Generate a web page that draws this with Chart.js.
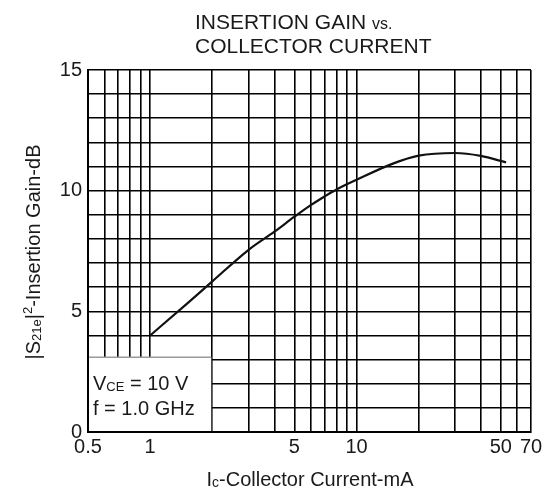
<!DOCTYPE html>
<html>
<head>
<meta charset="utf-8">
<script src="https://cdn.jsdelivr.net/npm/chart.js@4/dist/chart.umd.min.js"></script>
<style>
  html, body { margin: 0; padding: 0; background: #fff; }
</style>
</head>
<body>
<canvas id="gainChart" width="548" height="490"></canvas>
<script>
// Insertion gain vs collector current
const currentMA = [1, 1.5, 2, 3, 4, 5, 6, 7, 8, 10, 15, 20, 30, 40, 53];
const gainDB = [4.0, 5.3, 6.24, 7.55, 8.3, 8.92, 9.4, 9.76, 10.05, 10.45, 11.12, 11.45, 11.56, 11.44, 11.17];

const xGridValues = [0.5, 0.6, 0.7, 0.8, 0.9, 1, 2, 3, 4, 5, 6, 7, 8, 9, 10, 20, 30, 40, 50, 60, 70];
const xTickLabels = [0.5, 1, 5, 10, 50, 70];
const yGridValues = [0, 1, 2, 3, 4, 5, 6, 7, 8, 9, 10, 11, 12, 13, 14, 15];
const yTickLabels = [0, 5, 10, 15];

const fontFamily = "'Liberation Sans', Arial, sans-serif";
const ink = '#1a1a1a';

// draws a row of text pieces with different sizes (for subscripts)
function drawRuns(ctx, runs, x, y, align) {
    let total = 0;
    runs.forEach(r => {
        ctx.font = r.size + 'px ' + fontFamily;
        r.w = ctx.measureText(r.text).width;
        total += r.w;
    });
    let cx = align === 'center' ? x - total / 2 : x;
    ctx.textAlign = 'left';
    ctx.textBaseline = 'alphabetic';
    runs.forEach(r => {
        ctx.font = r.size + 'px ' + fontFamily;
        ctx.fillText(r.text, cx, y + (r.dy || 0));
        cx += r.w;
    });
}

const conditionBox = {
    id: 'conditionBox',
    beforeDatasetsDraw(chart) {
        const ctx = chart.ctx;
        const xs = chart.scales.x, ys = chart.scales.y;
        const x0 = chart.chartArea.left + 1;
        const x1 = xs.getPixelForValue(2) - 1;
        const yTop = ys.getPixelForValue(3.1);
        const yBot = chart.chartArea.bottom - 1;
        ctx.save();
        ctx.fillStyle = '#fff';
        ctx.fillRect(x0, yTop, x1 - x0, yBot - yTop);
        ctx.strokeStyle = '#9a9a9a';
        ctx.lineWidth = 1.5;
        ctx.beginPath();
        ctx.moveTo(x0, yTop);
        ctx.lineTo(x1, yTop);
        ctx.stroke();
        ctx.restore();
    },
    afterDraw(chart) {
        const ctx = chart.ctx;
        ctx.save();
        ctx.fillStyle = ink;
        // condition text
        drawRuns(ctx, [
            { text: 'V', size: 20 },
            { text: 'CE', size: 13, dy: 1 },
            { text: ' = 10 V', size: 20 }
        ], 93, 390, 'left');
        drawRuns(ctx, [{ text: 'f = 1.0 GHz', size: 20 }], 93, 415, 'left');

        // title
        drawRuns(ctx, [
            { text: 'INSERTION GAIN ', size: 21 },
            { text: 'vs.', size: 16 }
        ], 195, 29, 'left');
        drawRuns(ctx, [{ text: 'COLLECTOR CURRENT', size: 21 }], 195, 53, 'left');

        // x axis title
        drawRuns(ctx, [
            { text: 'I', size: 20 },
            { text: 'c', size: 14, dy: 1 },
            { text: '-Collector Current-mA', size: 20 }
        ], 310, 486, 'center');

        // y axis title
        ctx.translate(40, 252);
        ctx.rotate(-Math.PI / 2);
        drawRuns(ctx, [
            { text: '|S', size: 20 },
            { text: '21e', size: 13, dy: 1 },
            { text: '|', size: 20 },
            { text: '2', size: 13, dy: -8 },
            { text: '-Insertion Gain-dB', size: 20 }
        ], 0, 0, 'center');
        ctx.restore();
    }
};

const gainCtx = document.getElementById('gainChart').getContext('2d');
new Chart(gainCtx, {
    type: 'line',
    data: {
        datasets: [{
            data: currentMA.map((x, i) => ({ x: x, y: gainDB[i] })),
            borderColor: '#111',
            borderWidth: 2.2,
            pointRadius: 0,
            cubicInterpolationMode: 'monotone',
            fill: false
        }]
    },
    options: {
        responsive: false,
        animation: false,
        devicePixelRatio: 1,
        layout: { padding: { top: 70, right: 17, left: 0, bottom: 0 } },
        plugins: {
            legend: { display: false },
            tooltip: { enabled: false }
        },
        scales: {
            x: {
                type: 'logarithmic',
                min: 0.5,
                max: 70,
                afterBuildTicks: s => { s.ticks = xGridValues.map(v => ({ value: v })); },
                afterFit: s => { s.height = 58; s.paddingLeft = 0; s.paddingRight = 0; },
                grid: { color: '#000', lineWidth: 1.6, drawTicks: false },
                border: { color: '#000', width: 2 },
                ticks: {
                    autoSkip: false,
                    maxRotation: 0,
                    padding: 3,
                    color: ink,
                    font: { family: fontFamily, size: 20 },
                    callback: v => xTickLabels.includes(v) ? String(v) : ''
                }
            },
            y: {
                min: 0,
                max: 15,
                afterBuildTicks: s => { s.ticks = yGridValues.map(v => ({ value: v })); },
                afterFit: s => { s.width = 88; s.paddingTop = 0; s.paddingBottom = 0; },
                grid: { color: '#000', lineWidth: 1.6, drawTicks: false },
                border: { color: '#000', width: 2 },
                ticks: {
                    autoSkip: false,
                    padding: 6,
                    color: ink,
                    font: { family: fontFamily, size: 20 },
                    callback: v => yTickLabels.includes(v) ? String(v) : ''
                }
            }
        }
    },
    plugins: [conditionBox]
});
</script>
</body>
</html>
